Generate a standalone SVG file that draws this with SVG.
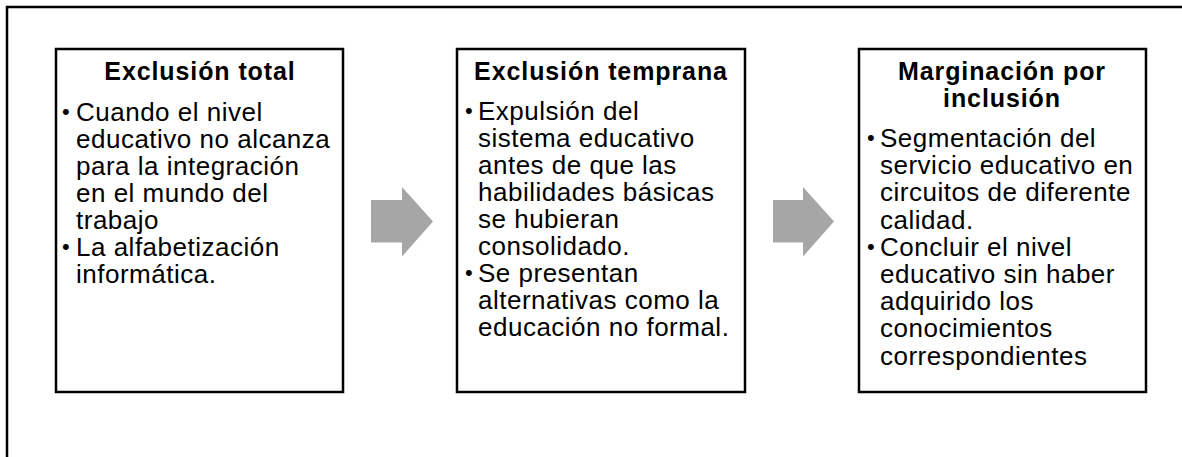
<svg xmlns="http://www.w3.org/2000/svg" width="1182" height="457" viewBox="0 0 1182 457">
<style>
.box{fill:#fff;stroke:#000;stroke-width:2.5}
.frame{fill:none;stroke:#000;stroke-width:2.5}
.title{font-family:"Liberation Sans",Arial,sans-serif;font-size:25px;font-weight:bold;letter-spacing:0.9px;text-anchor:middle;fill:#000}
.body{font-family:"Liberation Sans",Arial,sans-serif;font-size:26px;letter-spacing:0.5px;fill:#000}
.bul{font-family:"Liberation Sans",Arial,sans-serif;font-size:22px;fill:#000}
.arrow{fill:#a6a6a6}
</style>
<rect width="1182" height="457" fill="#fff"/>
<path class="frame" d="M7,457 V7 H1182"/>
<g id="node1">
<rect class="box" x="56" y="49" width="287" height="343"/>
<text class="title" x="200" y="80">Exclusión total</text>
<text class="bul" x="62" y="119">•</text>
<text class="bul" x="62" y="254">•</text>
<text class="body">
<tspan x="76" y="121">Cuando el nivel</tspan>
<tspan x="76" y="148">educativo no alcanza</tspan>
<tspan x="76" y="175">para la integración</tspan>
<tspan x="76" y="202">en el mundo del</tspan>
<tspan x="76" y="229">trabajo</tspan>
<tspan x="76" y="256">La alfabetización</tspan>
<tspan x="76" y="283">informática.</tspan>
</text>
</g>
<g id="node2">
<rect class="box" x="457" y="49" width="288" height="343"/>
<text class="title" x="601" y="80">Exclusión temprana</text>
<text class="bul" x="465" y="118">•</text>
<text class="bul" x="465" y="280">•</text>
<text class="body">
<tspan x="478" y="120">Expulsión del</tspan>
<tspan x="478" y="147">sistema educativo</tspan>
<tspan x="478" y="174">antes de que las</tspan>
<tspan x="478" y="201">habilidades básicas</tspan>
<tspan x="478" y="228">se hubieran</tspan>
<tspan x="478" y="255">consolidado.</tspan>
<tspan x="478" y="282">Se presentan</tspan>
<tspan x="478" y="309">alternativas como la</tspan>
<tspan x="478" y="336">educación no formal.</tspan>
</text>
</g>
<g id="node3">
<rect class="box" x="859" y="49" width="287" height="343"/>
<text class="title" x="1002" y="80">Marginación por</text>
<text class="title" x="1002" y="107">inclusión</text>
<text class="bul" x="867" y="145">•</text>
<text class="bul" x="867" y="254">•</text>
<text class="body">
<tspan x="880" y="147">Segmentación del</tspan>
<tspan x="880" y="174">servicio educativo en</tspan>
<tspan x="880" y="201">circuitos de diferente</tspan>
<tspan x="880" y="229">calidad.</tspan>
<tspan x="880" y="256">Concluir el nivel</tspan>
<tspan x="880" y="283">educativo sin haber</tspan>
<tspan x="880" y="310">adquirido los</tspan>
<tspan x="880" y="337">conocimientos</tspan>
<tspan x="880" y="365">correspondientes</tspan>
</text>
</g>
<g id="connectors">
<polygon class="arrow" points="371,200 402,200 402,187 433,221.5 402,256.5 402,242.5 371,242.5"/>
<polygon class="arrow" points="773,200 803,200 803,187 834,221.5 803,256.5 803,242.5 773,242.5"/>
</g>
</svg>
